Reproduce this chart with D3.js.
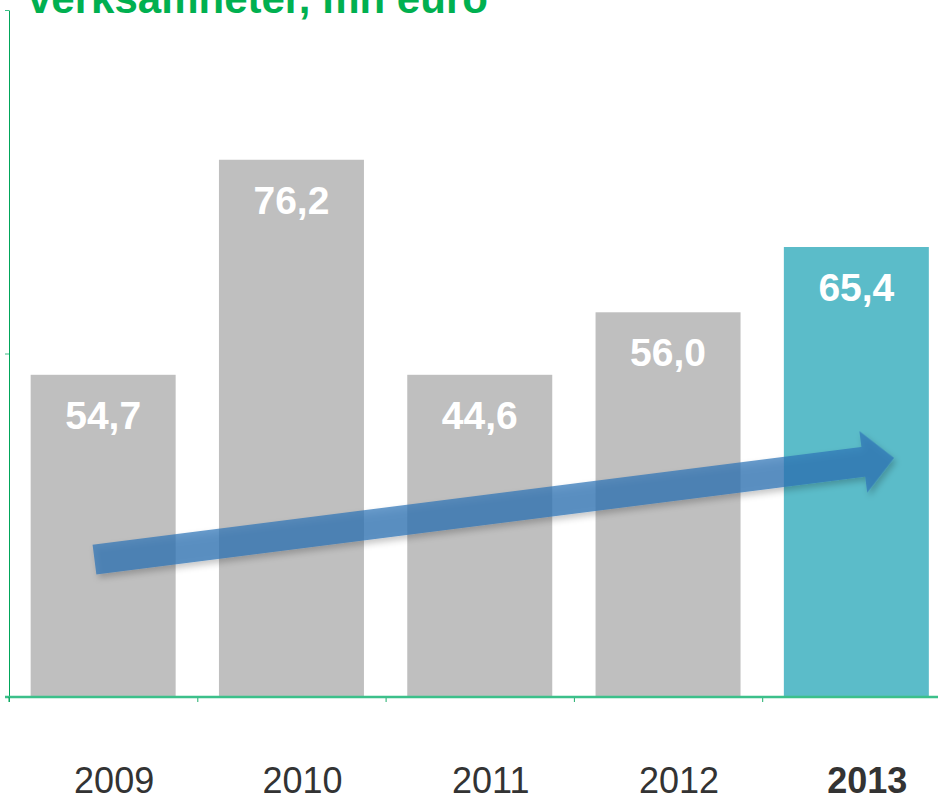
<!DOCTYPE html>
<html>
<head>
<meta charset="utf-8">
<script src="https://cdn.jsdelivr.net/npm/d3@7"></script>
<style>
    body { margin: 0; background: #fff; }
    svg { display: block; font-family: "Liberation Sans", Arial, sans-serif; }
</style>
</head>
<body>
<div id="chart"></div>
<script>
// values
const years = ["2009", "2010", "2011", "2012", "2013"];
const barHeights = [46.9, 78.2, 46.9, 56.0, 65.5];   // bar height, axis units
const valueLabels = ["54,7", "76,2", "44,6", "56,0", "65,4"];
const yTicks = [0, 50, 100];
const title = "verksamheter, mn euro";

// trend arrow, in band/value units
const arrowFrom = { year: "2009", offset: -0.06, value: 20.0 };
const arrowTo = { year: "2013", offset: 0.26, value: 34.8 };

const id = 'chart'
const width = 938, height = 801;
let margin = { top: 10, left: 9, bottom: 104 };

const svg = d3.select(`#${id}`)
    .append('svg')
    .attr('width', width)
    .attr('height', height);

const defs = svg.append('defs');
const shadow = defs.append('filter').attr('id', 'shadow')
    .attr('x', '-10%').attr('y', '-50%').attr('width', '120%').attr('height', '200%');
shadow.append('feDropShadow')
    .attr('dx', 2).attr('dy', 4).attr('stdDeviation', 3)
    .attr('flood-color', '#000').attr('flood-opacity', 0.3);

/* X-scale */
let x = d3.scaleBand()
    .domain(years)
    .range([margin.left, margin.left + 5 * 188.3])
    .paddingInner(0.23)
    .paddingOuter(0.115);

/* Y-scale */
let y = d3.scaleLinear()
    .domain([0, 100])
    .range([height - margin.bottom, margin.top]);

// title (cut off at the top, as in the original)
svg.append('text')
    .attr('x', 28)
    .attr('y', 13)
    .attr('fill', '#00b050')
    .attr('font-size', 42)
    .attr('font-weight', 'bold')
    .text(title);

// bars
svg.selectAll('rect.bar')
    .data(years)
    .enter()
    .append('rect')
    .attr('class', 'bar')
    .attr('x', d => x(d))
    .attr('y', (d, i) => y(barHeights[i]))
    .attr('width', x.bandwidth())
    .attr('height', (d, i) => y(0) - y(barHeights[i]))
    .attr('fill', d => d === '2013' ? '#5bbcc9' : '#bfbfbf');

// value labels
svg.selectAll('text.value')
    .data(years)
    .enter()
    .append('text')
    .attr('class', 'value')
    .attr('x', d => x(d) + x.bandwidth() / 2)
    .attr('y', (d, i) => y(barHeights[i]) + 54)
    .attr('text-anchor', 'middle')
    .attr('fill', '#fff')
    .attr('font-size', 39)
    .attr('font-weight', 'bold')
    .text((d, i) => valueLabels[i]);

// trend arrow
const p0 = [x(arrowFrom.year) + x.bandwidth() * (0.5 + arrowFrom.offset), y(arrowFrom.value)];
const p1 = [x(arrowTo.year) + x.bandwidth() * (0.5 + arrowTo.offset), y(arrowTo.value)];
const len = Math.hypot(p1[0] - p0[0], p1[1] - p0[1]);
const ang = Math.atan2(p1[1] - p0[1], p1[0] - p0[0]) * 180 / Math.PI;
const shaft = 15, head = 31, headLen = 31;
svg.append('path')
    .attr('transform', `translate(${p0[0]},${p0[1]}) rotate(${ang})`)
    .attr('d', d3.line()([
        [0, -shaft], [len - headLen, -shaft], [len - headLen, -head],
        [len, 0], [len - headLen, head], [len - headLen, shaft], [0, shaft]
    ]) + 'Z')
    .attr('fill', '#2e75b6')
    .attr('fill-opacity', 0.72)
    .attr('filter', 'url(#shadow)');

/* Y-axis */
svg.append('g')
    .attr('transform', `translate(${margin.left}, 0)`)
    .call(d3.axisLeft(y).tickValues(yTicks).tickFormat('').tickSize(4).tickSizeOuter(0))
    .call(g => g.select('.domain').attr('stroke', '#00a65a'))
    .call(g => g.selectAll('.tick line').attr('stroke', '#3cbf87'));

/* X-axis: ticks between the categories */
const edges = d3.scaleLinear().domain([0, 5]).range(x.range());
svg.append('g')
    .attr('transform', `translate(0, ${y(0)})`)
    .call(d3.axisBottom(edges).ticks(5).tickFormat('').tickSize(5).tickSizeOuter(0))
    .call(g => g.select('.domain').remove())
    .call(g => g.selectAll('.tick line').attr('stroke', '#1fae6c'));

svg.append('line')
    .attr('x1', 5)
    .attr('x2', width)
    .attr('y1', y(0))
    .attr('y2', y(0))
    .attr('stroke', '#3cc08a')
    .attr('stroke-width', 2.5);

svg.append('line')
    .attr('x1', margin.left)
    .attr('x2', margin.left)
    .attr('y1', y(0))
    .attr('y2', y(0) + 5)
    .attr('stroke', '#00a65a');

// year labels
svg.selectAll('text.year')
    .data(years)
    .enter()
    .append('text')
    .attr('class', 'year')
    .attr('x', d => x(d) + x.bandwidth() / 2 + 11)
    .attr('y', 793)
    .attr('text-anchor', 'middle')
    .attr('fill', '#333')
    .attr('font-size', 36)
    .attr('font-weight', d => d === '2013' ? 'bold' : 'normal')
    .text(d => d);
</script>
</body>
</html>
